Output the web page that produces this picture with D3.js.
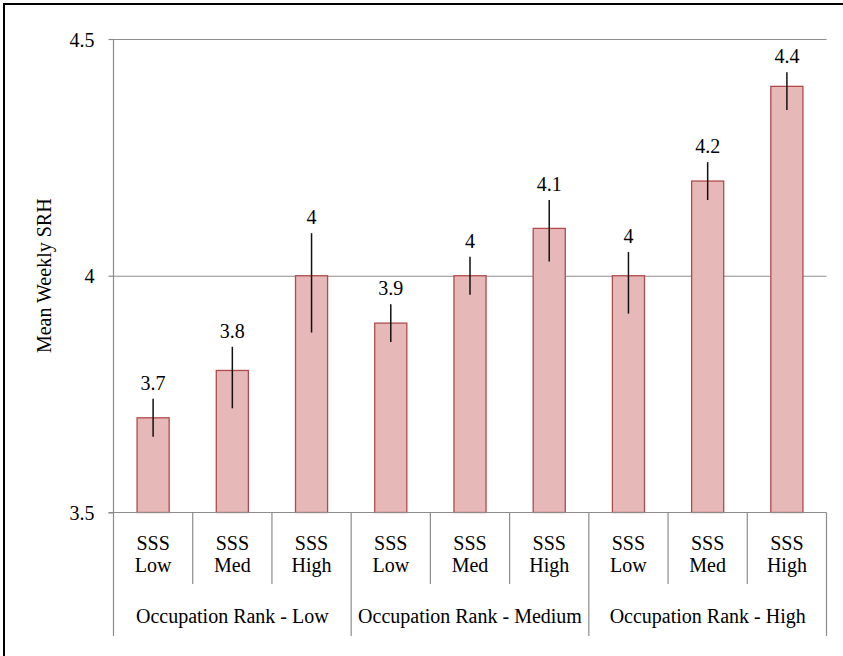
<!DOCTYPE html>
<html>
<head>
<meta charset="utf-8">
<script src="https://d3js.org/d3.v7.min.js"></script>
<style>
  body { margin: 0; background: #fff; }
  svg text { font-family: "Liberation Serif", "DejaVu Serif", "Times New Roman", Times, serif; fill: #000; }
</style>
</head>
<body>
<div id="chart"></div>
<script>
// groups and sub-categories
var groups = ["Occupation Rank - Low", "Occupation Rank - Medium", "Occupation Rank - High"];
var sssLevels = ["Low", "Med", "High"];
// bar values
var means = [3.7, 3.8, 4.0, 3.9, 4.0, 4.1, 4.0, 4.2, 4.4];
var errHigh = [3.74, 3.85, 4.09, 3.94, 4.04, 4.16, 4.05, 4.24, 4.43];
var errLow = [3.66, 3.72, 3.88, 3.86, 3.96, 4.03, 3.92, 4.16, 4.35];
var valueLabels = ["3.7", "3.8", "4", "3.9", "4", "4.1", "4", "4.2", "4.4"];
var yTicks = [3.5, 4, 4.5];

var width = 843, height = 656;
var plotLeft = 113.5, plotRight = 826.5, plotTop = 39, plotBottom = 512.5;
var serif = "'Liberation Serif', 'DejaVu Serif', 'Times New Roman', serif";

var svg = d3.select("#chart").append("svg")
  .attr("width", width)
  .attr("height", height)
  .style("font-family", serif);

// outer frame
svg.append("rect")
  .attr("x", 4).attr("y", 4)
  .attr("width", 860).attr("height", 680)
  .attr("fill", "none")
  .attr("stroke", "#000")
  .attr("stroke-width", 2);

// one band per bar
var keys = [];
groups.forEach(function(g, gi) {
  sssLevels.forEach(function(s, si) { keys.push(gi + "-" + si); });
});

var x = d3.scaleBand().domain(keys).range([plotLeft, plotRight]).padding(0);
var y = d3.scaleLinear().domain([3.5, 4.5]).range([plotBottom, plotTop]);
var barW = x.bandwidth() * 0.405;

// gridlines
svg.append("g")
  .attr("transform", "translate(" + plotLeft + ",0)")
  .call(d3.axisLeft(y).tickValues(yTicks.slice(1)).tickSize(-(plotRight - plotLeft)).tickFormat(""))
  .call(function(g) {
    g.select(".domain").remove();
    g.selectAll("line").attr("stroke", "#8c8c8c").attr("stroke-width", 1.2);
  });

var data = means.map(function(m, i) {
  return { key: keys[i], mean: m, hi: errHigh[i], lo: errLow[i], label: valueLabels[i] };
});

// bars
svg.selectAll(".bar")
  .data(data)
  .enter().append("rect")
  .attr("class", "bar")
  .attr("x", function(d) { return x(d.key) + (x.bandwidth() - barW) / 2; })
  .attr("y", function(d) { return y(d.mean); })
  .attr("width", barW)
  .attr("height", function(d) { return y(3.5) - y(d.mean); })
  .attr("fill", "#e6b9b8")
  .attr("stroke", "#b24a4c")
  .attr("stroke-width", 1.3);

// error bars
svg.selectAll(".err")
  .data(data)
  .enter().append("line")
  .attr("x1", function(d) { return x(d.key) + x.bandwidth() / 2; })
  .attr("x2", function(d) { return x(d.key) + x.bandwidth() / 2; })
  .attr("y1", function(d) { return y(d.hi); })
  .attr("y2", function(d) { return y(d.lo); })
  .attr("stroke", "#111")
  .attr("stroke-width", 1.5);

// value labels
svg.selectAll(".val")
  .data(data)
  .enter().append("text")
  .attr("x", function(d) { return x(d.key) + x.bandwidth() / 2; })
  .attr("y", function(d) { return y(d.hi) - 9; })
  .attr("text-anchor", "middle")
  .attr("font-size", 20)
  .text(function(d) { return d.label; });

// y axis
svg.append("g")
  .attr("transform", "translate(" + plotLeft + ",0)")
  .call(d3.axisLeft(y).tickValues(yTicks).tickSize(5).tickPadding(14).tickFormat(function(d) { return d3.format("")(d); }))
  .call(function(g) {
    g.select(".domain").remove();
    g.attr("font-family", serif).attr("font-size", 20);
    g.selectAll("line").attr("stroke", "#8c8c8c").attr("stroke-width", 1.2);
    g.selectAll("text").attr("dy", "0.35em");
  });
svg.append("line")
  .attr("x1", plotLeft).attr("x2", plotLeft)
  .attr("y1", plotTop).attr("y2", 636)
  .attr("stroke", "#8c8c8c").attr("stroke-width", 1.2);

// x axis line
svg.append("line")
  .attr("x1", plotLeft - 5).attr("x2", plotRight)
  .attr("y1", plotBottom).attr("y2", plotBottom)
  .attr("stroke", "#8c8c8c").attr("stroke-width", 1.2);

// separators between bars and groups
var seps = keys.slice(1).map(function(k, i) { return { pos: x(k), groupEdge: (i + 1) % 3 === 0 }; });
seps.push({ pos: plotRight, groupEdge: true });
svg.selectAll(".sep")
  .data(seps)
  .enter().append("line")
  .attr("x1", function(d) { return d.pos; })
  .attr("x2", function(d) { return d.pos; })
  .attr("y1", plotBottom)
  .attr("y2", function(d) { return d.groupEdge ? 636 : 584; })
  .attr("stroke", "#8c8c8c").attr("stroke-width", 1.2);

// category labels (two lines)
var catText = svg.selectAll(".cat")
  .data(data)
  .enter().append("text")
  .attr("text-anchor", "middle")
  .attr("font-size", 20);
catText.append("tspan")
  .attr("x", function(d) { return x(d.key) + x.bandwidth() / 2; })
  .attr("y", 550)
  .text("SSS");
catText.append("tspan")
  .attr("x", function(d) { return x(d.key) + x.bandwidth() / 2; })
  .attr("y", 572)
  .text(function(d, i) { return sssLevels[i % 3]; });

// group labels
svg.selectAll(".grp")
  .data(groups)
  .enter().append("text")
  .attr("x", function(d, i) { return (x(keys[i * 3]) + x(keys[i * 3 + 2]) + x.bandwidth()) / 2; })
  .attr("y", 623)
  .attr("text-anchor", "middle")
  .attr("font-size", 20)
  .text(function(d) { return d; });

// y axis title
svg.append("text")
  .attr("transform", "translate(51," + ((plotTop + plotBottom) / 2) + ") rotate(-90)")
  .attr("text-anchor", "middle")
  .attr("font-size", 20)
  .text("Mean Weekly SRH");
</script>
</body>
</html>
